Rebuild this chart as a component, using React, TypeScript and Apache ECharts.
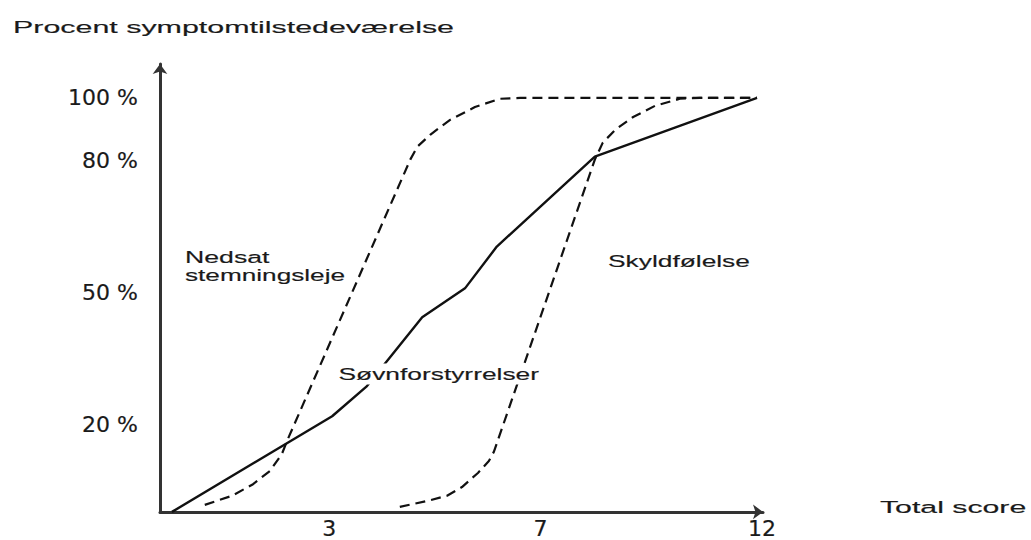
import React, { useEffect, useRef } from "react";
import * as echarts from "echarts";

// Axis positions of the (schematic) tick labels and their texts
const xTickPos = [3.4, 7.65, 12.1];
const xTickLabels = ["3", "7", "12"];
const yTickPos = [21.2, 53, 85, 100];
const yTickLabels = ["20 %", "50 %", "80 %", "100 %"];

const xMax = 12.12;
const yMax = 108.2;

// Curves (x in axis units, y in percent)
const sovnforstyrrelser: [number, number][] = [
  [0.24, 0], [3.46, 23.1], [4.16, 30.4], [5.27, 47.0], [6.13, 54.0],
  [6.77, 64.1], [8.74, 85.8], [12.0, 100],
];
const nedsatStemningsleje: [number, number][] = [
  [0.9, 1.7], [1.45, 3.9], [1.87, 6.7], [2.21, 9.9], [2.45, 14.0],
  [2.57, 17.6], [5.03, 85.1], [5.17, 88.2], [5.43, 91.1], [5.83, 94.7],
  [6.33, 97.8], [6.83, 99.8], [7.24, 100], [12.0, 100],
];
const skyldfolelse: [number, number][] = [
  [4.82, 1.2], [5.39, 2.7], [5.77, 3.9], [6.07, 6.0], [6.39, 9.4],
  [6.61, 12.3], [6.71, 14.5], [8.74, 85.1], [8.9, 89.2], [9.15, 92.3],
  [9.51, 95.4], [9.95, 98.1], [10.45, 99.8], [10.85, 100], [12.0, 100],
];

const titleText = "Procent symptomtilstedeværelse";
const xNameText = "Total score";

export default function App() {
  const ref = useRef<HTMLDivElement>(null);
  useEffect(() => {
    const chart = echarts.init(ref.current!, null, { renderer: "svg" });
    const dashed = { color: "#111", width: 2.2, type: [10, 6] };
    const labelFont = '17px "Liberation Sans", Arial, sans-serif';
    const txt = (text: string, x: number, y: number, sx: number, bg?: string) => ({
      type: "text",
      x,
      y,
      scaleX: sx,
      z: 100,
      style: {
        text,
        font: labelFont,
        fill: "#1a1a1a",
        stroke: "#1a1a1a",
        lineWidth: 0.15,
        textAlign: "left",
        textVerticalAlign: "middle",
        backgroundColor: bg,
        padding: bg ? [2, 1] : 0,
      },
    });
    const tickLabelStyle = {
      fontFamily: "DejaVu Sans",
      fontSize: 22,
      color: "#1a1a1a",
      textBorderColor: "#1a1a1a",
      textBorderWidth: 0.2,
    };
    chart.setOption({
      animation: false,
      backgroundColor: "#fff",
      grid: { left: 160, right: 268, top: 64, bottom: 27 },
      xAxis: {
        type: "value",
        min: 0,
        max: xMax,
        splitLine: { show: false },
        axisTick: { show: false },
        axisLine: {
          show: true,
          onZero: false,
          symbol: ["none", "arrow"],
          symbolSize: [11, 10],
          lineStyle: { color: "#333", width: 3 },
        },
        axisLabel: {
          customValues: xTickPos,
          formatter: (v: number) => xTickLabels[xTickPos.indexOf(v)] ?? "",
          ...tickLabelStyle,
          margin: 6,
        },
      },
      yAxis: {
        type: "value",
        min: 0,
        max: yMax,
        splitLine: { show: false },
        axisTick: { show: false },
        axisLine: {
          show: true,
          onZero: false,
          symbol: ["none", "arrow"],
          symbolSize: [11, 10],
          lineStyle: { color: "#333", width: 3 },
        },
        axisLabel: {
          customValues: yTickPos,
          formatter: (v: number) => yTickLabels[yTickPos.indexOf(v)] ?? "",
          ...tickLabelStyle,
          margin: 22,
        },
      },
      series: [
        {
          name: "Søvnforstyrrelser",
          type: "line",
          data: sovnforstyrrelser,
          symbol: "none",
          lineStyle: { color: "#111", width: 2.4, type: "solid" },
        },
        {
          name: "Nedsat stemningsleje",
          type: "line",
          data: nedsatStemningsleje,
          symbol: "none",
          lineStyle: dashed,
        },
        {
          name: "Skyldfølelse",
          type: "line",
          data: skyldfolelse,
          symbol: "none",
          lineStyle: dashed,
        },
      ],
      graphic: [
        txt(titleText, 13, 27, 1.79),
        txt(xNameText, 880, 507, 1.78),
        txt("Nedsat", 185, 257, 1.57),
        txt("stemningsleje", 185, 275, 1.54),
        txt("Skyldfølelse", 608, 261, 1.55),
        txt("Søvnforstyrrelser", 337, 374, 1.55, "#fff"),
      ],
    });
    return () => chart.dispose();
  }, []);
  return (
    <div
      ref={ref}
      style={{ position: "fixed", left: 0, top: 0, width: 1031, height: 540, background: "#fff" }}
    />
  );
}
